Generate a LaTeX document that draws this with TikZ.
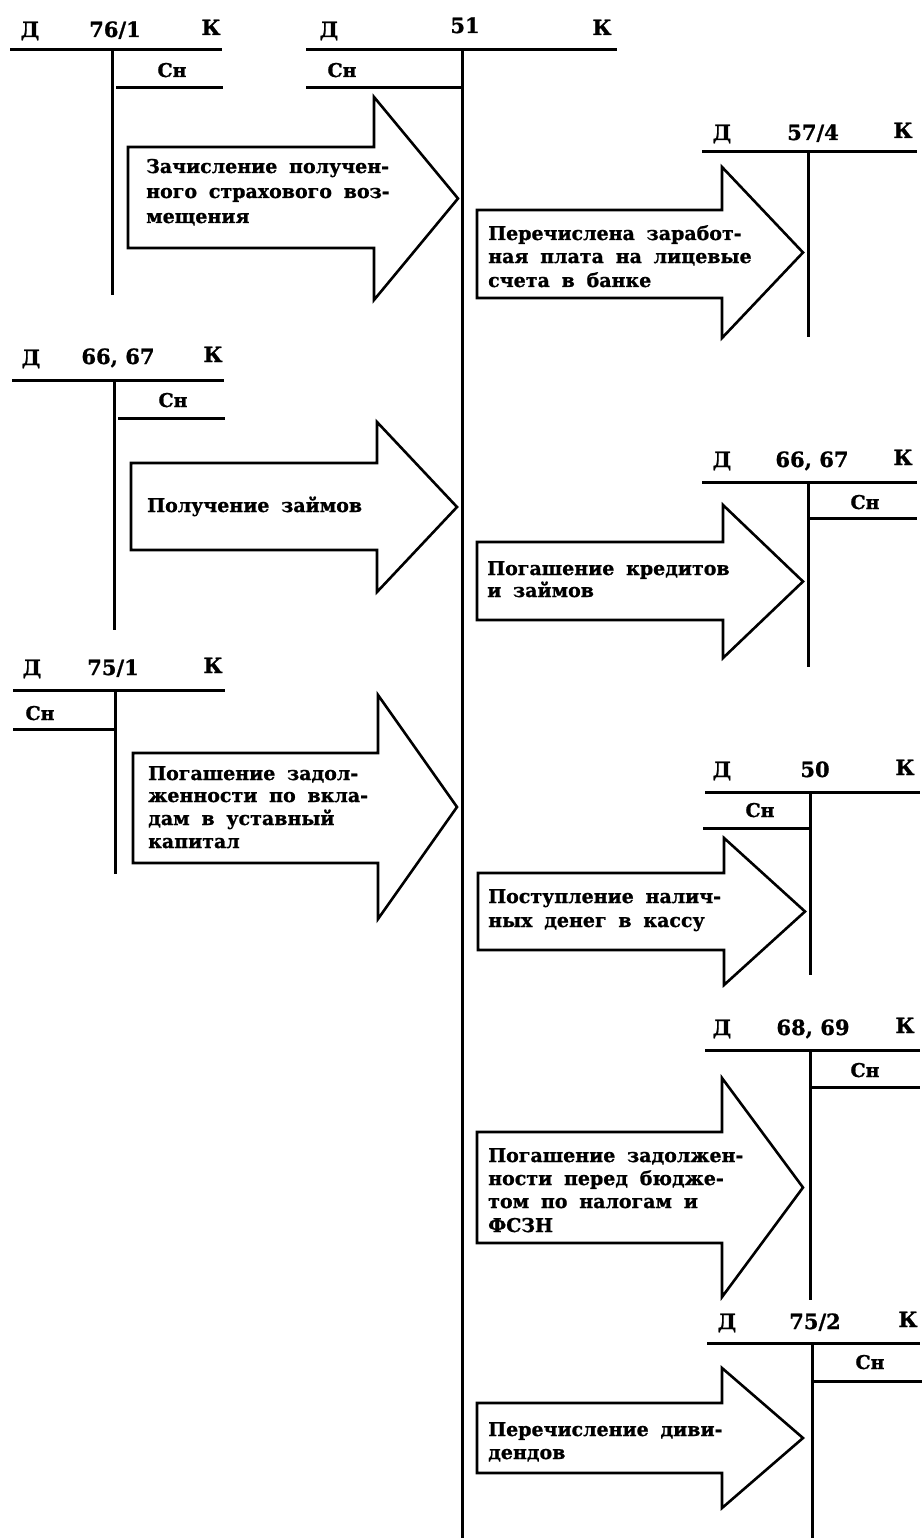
\documentclass[tikz,border=0pt]{standalone}
\usepackage{fontspec}
\setmainfont{DejaVu Serif}
\newfontfamily\myarfam{DejaVu Serif}[BoldFeatures={FakeBold=1}]
\newfontfamily\myhdfam{DejaVu Serif}[BoldFeatures={FakeBold=1}]
\newcommand{\myhdfont}{\myhdfam\bfseries\fontsize{21}{24}\selectfont}
\newcommand{\mycnfont}{\myhdfam\bfseries\fontsize{19}{22}\selectfont}
\newcommand{\myatfont}{\myarfam\bfseries\fontsize{19}{23}\selectfont\spaceskip=0.62em plus 0.1em minus 0.05em\relax}
% arrow: left x, rect top, rect bottom, base x, head top, head bottom, tip x
\newcommand{\bigarrow}[7]{%
  \draw[arr] (#1,#2) -- (#4,#2) -- (#4,#5) -- (#7,{(#5+#6)/2}) -- (#4,#6) -- (#4,#3) -- (#1,#3) -- cycle;}
\begin{document}
\begin{tikzpicture}[x=1pt,y=-1pt,
  tline/.style={line width=3pt},
  arr/.style={line width=2.6pt, line join=miter, fill=white},
  hd/.style={font=\myhdfont, inner sep=0pt, anchor=base},
  cn/.style={font=\mycnfont, inner sep=0pt, anchor=base},
  arrtext/.style={font=\myatfont, inner sep=0pt, anchor=base west}]
\useasboundingbox (0,0) rectangle (922,1538);
\fill[white] (0,0) rectangle (922,1538);

% ---------- account 76/1 ----------
\node[hd] (d761) at (30,37) {Д};
\node[hd] (n761) at (115,37) {76/1};
\node[hd] (k761) at (211,35) {К};
\draw[tline] (10,50) -- (222,50);
\draw[tline] (112,50) -- (112,295);
\node[cn] (c761) at (172,77) {Сн};
\draw[tline] (116,88) -- (223,88);

% ---------- account 51 ----------
\node[hd] (d51) at (329,37) {Д};
\node[hd] (n51) at (465,33) {51};
\node[hd] (k51) at (602,35) {К};
\draw[tline] (306,50) -- (617,50);
\draw[tline] (462,50) -- (462,1538);
\node[cn] (c51) at (342,77) {Сн};
\draw[tline] (306,88) -- (462,88);

% ---------- account 66,67 left ----------
\node[hd] (d6667a) at (31,365) {Д};
\node[hd] (n6667a) at (118,364) {66, 67};
\node[hd] (k6667a) at (213,362) {К};
\draw[tline] (12,380) -- (224,380);
\draw[tline] (114,380) -- (114,630);
\node[cn] (c6667a) at (173,407) {Сн};
\draw[tline] (118,418) -- (225,418);

% ---------- account 75/1 ----------
\node[hd] (d751) at (32,675) {Д};
\node[hd] (n751) at (113,675) {75/1};
\node[hd] (k751) at (213,673) {К};
\draw[tline] (13,690) -- (225,690);
\draw[tline] (115,690) -- (115,874);
\node[cn] (c751) at (40,720) {Сн};
\draw[tline] (13,729) -- (115,729);

% ---------- account 57/4 ----------
\node[hd] (d574) at (722,140) {Д};
\node[hd] (n574) at (813,140) {57/4};
\node[hd] (k574) at (903,138) {К};
\draw[tline] (702,152) -- (917,152);
\draw[tline] (808,152) -- (808,337);

% ---------- account 66,67 right ----------
\node[hd] (d6667b) at (722,467) {Д};
\node[hd] (n6667b) at (812,467) {66, 67};
\node[hd] (k6667b) at (903,465) {К};
\draw[tline] (702,482) -- (917,482);
\draw[tline] (808,482) -- (808,667);
\node[cn] (c6667b) at (865,509) {Сн};
\draw[tline] (810,518) -- (917,518);

% ---------- account 50 ----------
\node[hd] (d50) at (722,777) {Д};
\node[hd] (n50) at (815,777) {50};
\node[hd] (k50) at (905,775) {К};
\draw[tline] (705,792) -- (920,792);
\draw[tline] (810,792) -- (810,975);
\node[cn] (c50) at (760,817) {Сн};
\draw[tline] (703,828) -- (810,828);

% ---------- account 68,69 ----------
\node[hd] (d6869) at (722,1035) {Д};
\node[hd] (n6869) at (813,1035) {68, 69};
\node[hd] (k6869) at (905,1033) {К};
\draw[tline] (705,1050) -- (920,1050);
\draw[tline] (810,1050) -- (810,1300);
\node[cn] (c6869) at (865,1077) {Сн};
\draw[tline] (812,1087) -- (920,1087);

% ---------- account 75/2 ----------
\node[hd] (d752) at (727,1329) {Д};
\node[hd] (n752) at (815,1329) {75/2};
\node[hd] (k752) at (908,1327) {К};
\draw[tline] (707,1343) -- (920,1343);
\draw[tline] (812,1343) -- (812,1538);
\node[cn] (c752) at (870,1369) {Сн};
\draw[tline] (813,1381) -- (922,1381);

% ---------- left arrows ----------
\bigarrow{128}{147}{248}{374}{97}{300}{458}
\node[arrtext] (a1a) at (146,173) {Зачисление получен-};
\node[arrtext] (a1b) at (146,198) {ного страхового воз-};
\node[arrtext] (a1c) at (146,223) {мещения};

\bigarrow{131}{463}{550}{377}{422}{592}{457}
\node[arrtext] (a2a) at (147,512) {Получение займов};

\bigarrow{133}{753}{863}{378}{695}{919}{457}
\node[arrtext] (a3a) at (148,780) {Погашение задол-};
\node[arrtext] (a3b) at (148,802) {женности по вкла-};
\node[arrtext] (a3c) at (148,825) {дам в уставный};
\node[arrtext] (a3d) at (148,848) {капитал};

% ---------- right arrows ----------
\bigarrow{477}{210}{298}{722}{167}{338}{803}
\node[arrtext] (b1a) at (488,240) {Перечислена заработ-};
\node[arrtext] (b1b) at (488,263) {ная плата на лицевые};
\node[arrtext] (b1c) at (488,287) {счета в банке};

\bigarrow{477}{542}{620}{723}{505}{658}{803}
\node[arrtext] (b2a) at (487,575) {Погашение кредитов};
\node[arrtext] (b2b) at (487,597) {и займов};

\bigarrow{478}{873}{950}{724}{838}{985}{805}
\node[arrtext] (b3a) at (488,903) {Поступление налич-};
\node[arrtext] (b3b) at (488,927) {ных денег в кассу};

\bigarrow{477}{1132}{1243}{722}{1078}{1297}{803}
\node[arrtext] (b4a) at (488,1162) {Погашение задолжен-};
\node[arrtext] (b4b) at (488,1185) {ности перед бюдже-};
\node[arrtext] (b4c) at (488,1208) {том по налогам и};
\node[arrtext] (b4d) at (488,1232) {ФСЗН};

\bigarrow{477}{1403}{1473}{722}{1368}{1508}{803}
\node[arrtext] (b5a) at (488,1436) {Перечисление диви-};
\node[arrtext] (b5b) at (488,1459) {дендов};
\end{tikzpicture}
\end{document}
